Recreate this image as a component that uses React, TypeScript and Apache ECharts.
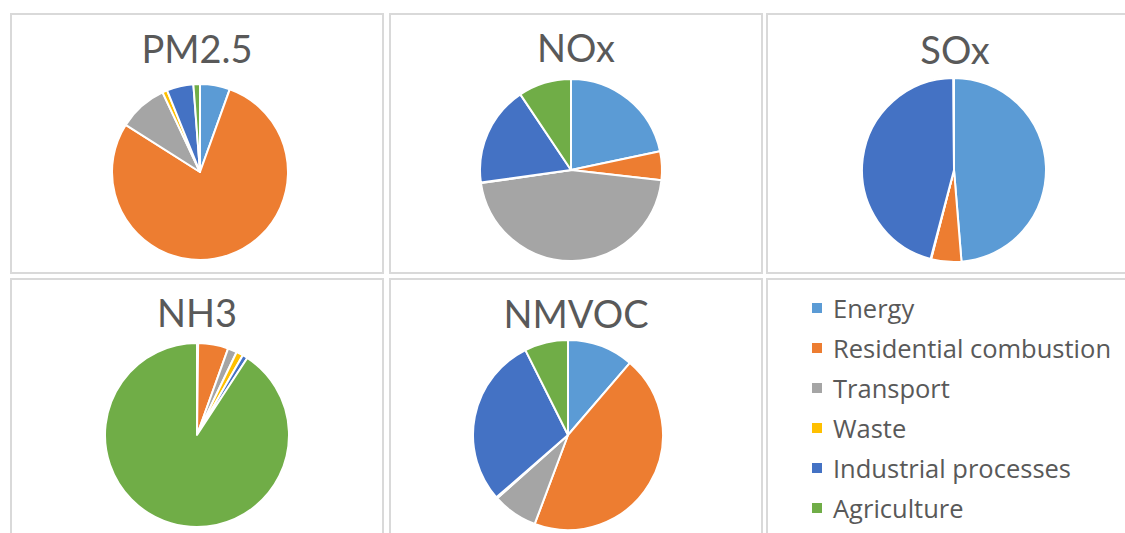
import React, { useEffect, useRef } from "react";
import * as echarts from "echarts";

const CATEGORIES = [
  "Energy",
  "Residential combustion",
  "Transport",
  "Waste",
  "Industrial processes",
  "Agriculture",
];
const COLORS = ["#5B9BD5", "#ED7D31", "#A5A5A5", "#FFC000", "#4472C4", "#70AD47"];

const TITLES = ["PM2.5", "NOx", "SOx", "NH3", "NMVOC"];
const PM25 = [5.5, 78.5, 9.0, 0.9, 4.9, 1.2];
const NOX = [21.7, 5.1, 45.9, 0.1, 17.8, 9.4];
const SOX = [48.7, 5.3, 0.1, 0.0, 45.8, 0.1];
const NH3 = [0.2, 5.3, 1.6, 1.2, 0.9, 90.8];
const NMVOC = [11.3, 44.4, 7.7, 0.2, 29.0, 7.4];

const FONT = "Lato, 'Open Sans', sans-serif";
const LEGEND_FONT = "'Open Sans', Lato, sans-serif";

export default function App() {
  const ref = useRef<HTMLDivElement>(null);
  useEffect(() => {
    if (!ref.current) return;
    const chart = echarts.init(ref.current, undefined, { renderer: "svg" });
    const values = [PM25, NOX, SOX, NH3, NMVOC];
    const centers = [
      [200, 172],
      [571, 170],
      [954, 170],
      [197, 435],
      [568, 435],
    ];
    const radii = [88, 91, 92, 92, 95];
    const titlePos = [
      [197, 48],
      [576, 47],
      [955, 49],
      [197, 312],
      [576, 313],
    ];
    const panels = [
      [11, 14, 372, 259],
      [390, 14, 372, 259],
      [767, 14, 376, 259],
      [11, 279, 372, 270],
      [390, 279, 372, 270],
      [767, 279, 376, 270],
    ];
    const graphics: any[] = panels.map((p) => ({
      type: "rect",
      z: 0,
      shape: { x: p[0], y: p[1], width: p[2], height: p[3] },
      style: { fill: "#ffffff", stroke: "#d9d9d9", lineWidth: 2 },
      silent: true,
    }));
    TITLES.forEach((t, i) => {
      graphics.push({
        type: "text",
        z: 1,
        x: titlePos[i][0],
        y: titlePos[i][1],
        style: {
          text: t,
          fill: "#595959",
          font: `38px ${FONT}`,
          fontSize: 38,
          fontFamily: FONT,
          align: "center",
          verticalAlign: "middle",
          textAlign: "center",
          textVerticalAlign: "middle",
        },
        silent: true,
      });
    });
    const series = values.map((vals, i) => ({
      type: "pie",
      name: TITLES[i],
      center: centers[i],
      radius: radii[i],
      startAngle: 90,
      clockwise: true,
      z: 3,
      label: { show: false },
      labelLine: { show: false },
      emphasis: { disabled: true },
      itemStyle: { borderColor: "#ffffff", borderWidth: 2 },
      data: CATEGORIES.map((c, k) => ({
        name: c,
        value: vals[k],
        itemStyle: { color: COLORS[k] },
      })),
    }));
    chart.setOption({
      animation: false,
      color: COLORS,
      backgroundColor: "#ffffff",
      graphic: graphics,
      legend: {
        orient: "vertical",
        left: 810,
        top: 294,
        padding: 0,
        icon: "rect",
        itemWidth: 12,
        itemHeight: 12,
        itemGap: 12,
        selectedMode: false,
        data: CATEGORIES,
        textStyle: {
          color: "#595959",
          fontSize: 25.5,
          fontFamily: LEGEND_FONT,
          lineHeight: 28,
          padding: [0, 0, 0, 5],
        },
      },
      series,
    });
    return () => chart.dispose();
  }, []);
  return (
    <div
      ref={ref}
      style={{ position: "absolute", left: 0, top: 0, width: 1125, height: 533 }}
    />
  );
}
